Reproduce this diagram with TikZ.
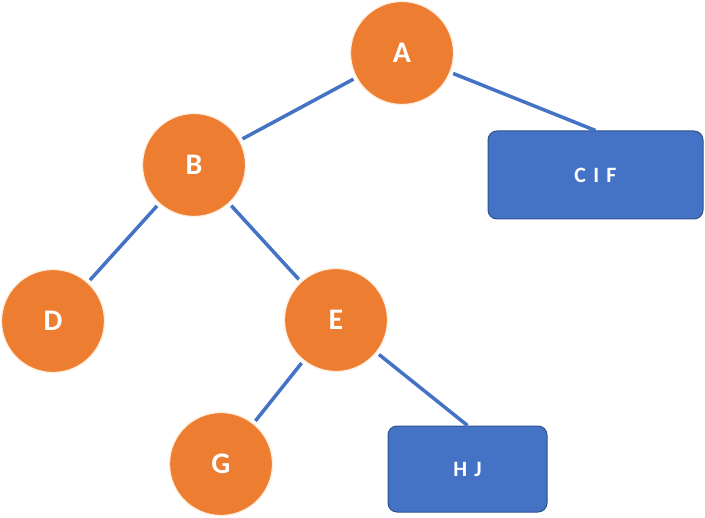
\documentclass[tikz,border=0pt]{standalone}
\usepackage{fontspec}
\setmainfont{Carlito}
\begin{document}
\begin{tikzpicture}[x=1bp,y=-1bp,
  circ/.style={circle,fill={rgb,255:red,237;green,125;blue,49},draw=white!85!orange,line width=1.2bp,minimum size=103bp,inner sep=0pt,text=white,font=\fontsize{30}{30}\selectfont\bfseries},
  box/.style={rectangle,rounded corners=9bp,fill={rgb,255:red,68;green,114;blue,196},draw={rgb,255:red,47;green,82;blue,143},line width=1bp,text=white,font=\fontsize{22}{22}\selectfont\bfseries},
  edge/.style={draw={rgb,255:red,68;green,114;blue,196},line width=3.5bp,shorten <=3bp,shorten >=3bp}]
\useasboundingbox (0,0) rectangle (705,518);
\node[circ] (A) at (402,53) {A};
\node[circ] (B) at (194,165) {B};
\node[circ] (D) at (53,321) {D};
\node[circ] (E) at (336,320) {E};
\node[circ] (G) at (221,464) {G};
\node[box,minimum width=215bp,minimum height=88bp] (C) at (595.5,175) {C\,\,I\,\,F};
\node[box,minimum width=159bp,minimum height=86bp] (H) at (467.5,469) {H\,\,J};
\draw[edge] (A) -- (B);
\draw[edge,shorten >=0bp] (A) -- (C.north);
\draw[edge] (B) -- (D);
\draw[edge] (B) -- (E);
\draw[edge] (E) -- (G);
\draw[edge,shorten >=0bp] (E) -- (H.north);
\end{tikzpicture}
\end{document}
